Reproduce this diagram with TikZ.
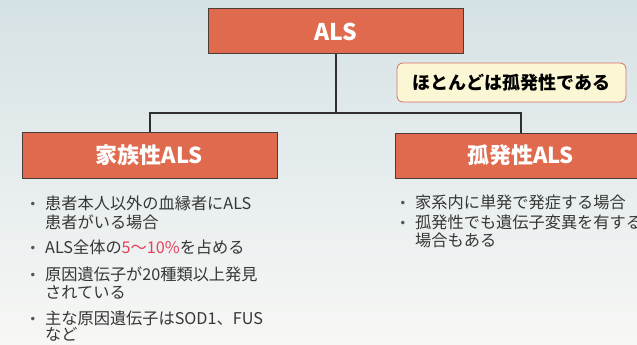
\documentclass[tikz,border=0pt]{standalone}
\usepackage{fontspec}
\setmainfont{Noto Sans CJK JP}
\newfontfamily\bulfont{DejaVu Sans}
\definecolor{boxfill}{HTML}{DF6A4E}
\definecolor{boxline}{HTML}{4A3C38}
\definecolor{conn}{HTML}{2F2F2F}
\definecolor{callfill}{HTML}{FBF7D4}
\definecolor{callline}{HTML}{D9706A}
\definecolor{txt}{HTML}{363636}
\definecolor{hl}{HTML}{E8405A}
\definecolor{bgtop}{HTML}{D5E2E5}
\definecolor{bgmid}{HTML}{EBF0EF}
\definecolor{bgbot}{HTML}{F7F7F5}
\tikzset{
  titlebox/.style={draw=boxline, line width=1pt, fill=boxfill, text=white, inner sep=0pt},
  callout/.style={draw=callline, line width=0.8pt, fill=callfill, rounded corners=6pt, inner sep=0pt, text=black, font=\bfseries\fontsize{18}{18}\selectfont},
  connector/.style={draw=conn, line width=2pt},
  item/.style={anchor=base west, inner sep=0pt, text=txt, font=\fontsize{16.2}{19}\selectfont},
  bul/.style={anchor=base, inner sep=0pt, text=txt!85, font=\bulfont\fontsize{12}{12}\selectfont}
}
\begin{document}
\begin{tikzpicture}[x=1pt,y=-1pt]
\useasboundingbox (0,0) rectangle (637,345);
\shade[top color=bgtop, middle color=bgmid, bottom color=bgbot] (0,0) rectangle (637,345);

% boxes
\node[titlebox, minimum width=255pt, minimum height=45pt, font=\bfseries\fontsize{23}{23}\selectfont] (als) at (335.5,31.5) {ALS};
\node[titlebox, minimum width=255pt, minimum height=46pt, font=\bfseries\fontsize{22}{22}\selectfont] (fam) at (149.5,155) {家族性ALS};
\node[titlebox, minimum width=251pt, minimum height=45pt, font=\bfseries\fontsize{22}{22}\selectfont] (spo) at (520.5,155.5) {孤発性ALS};
\node[callout, minimum width=229pt, minimum height=39pt] (note) at (511.5,82.5) {ほとんどは孤発性である};

% connectors
\coordinate (j) at (335.5,113);
\draw[connector] (als.south) -- (j);
\draw[connector] (j) -| (fam.north);
\draw[connector] (j) -| (spo.north);

% left bullets
\node[bul] (lb1) at (33,208.5) {•};
\node[item] (l1a) at (45,209.5) {患者本人以外の血縁者にALS};
\node[item] (l1b) at (45,228.5) {患者がいる場合};
\node[bul] (lb2) at (33,252.5) {•};
\node[item] (l2a) at (45,253.5) {ALS全体の\textcolor{hl}{5～10\%}を占める};
\node[bul] (lb3) at (33,279.5) {•};
\node[item] (l3a) at (45,280.5) {原因遺伝子が20種類以上発見};
\node[item] (l3b) at (45,298.5) {されている};
\node[bul] (lb4) at (33,323.5) {•};
\node[item] (l4a) at (45,324.5) {主な原因遺伝子はSOD1、FUS};
\node[item] (l4b) at (45,340.5) {など};

% right bullets
\node[bul] (rb1) at (403,207.5) {•};
\node[item] (r1a) at (415,208.5) {家系内に単発で発症する場合};
\node[bul] (rb2) at (403,227.5) {•};
\node[item] (r2a) at (415,228.5) {孤発性でも遺伝子変異を有する};
\node[item] (r2b) at (415,246.5) {場合もある};
\end{tikzpicture}
\end{document}
